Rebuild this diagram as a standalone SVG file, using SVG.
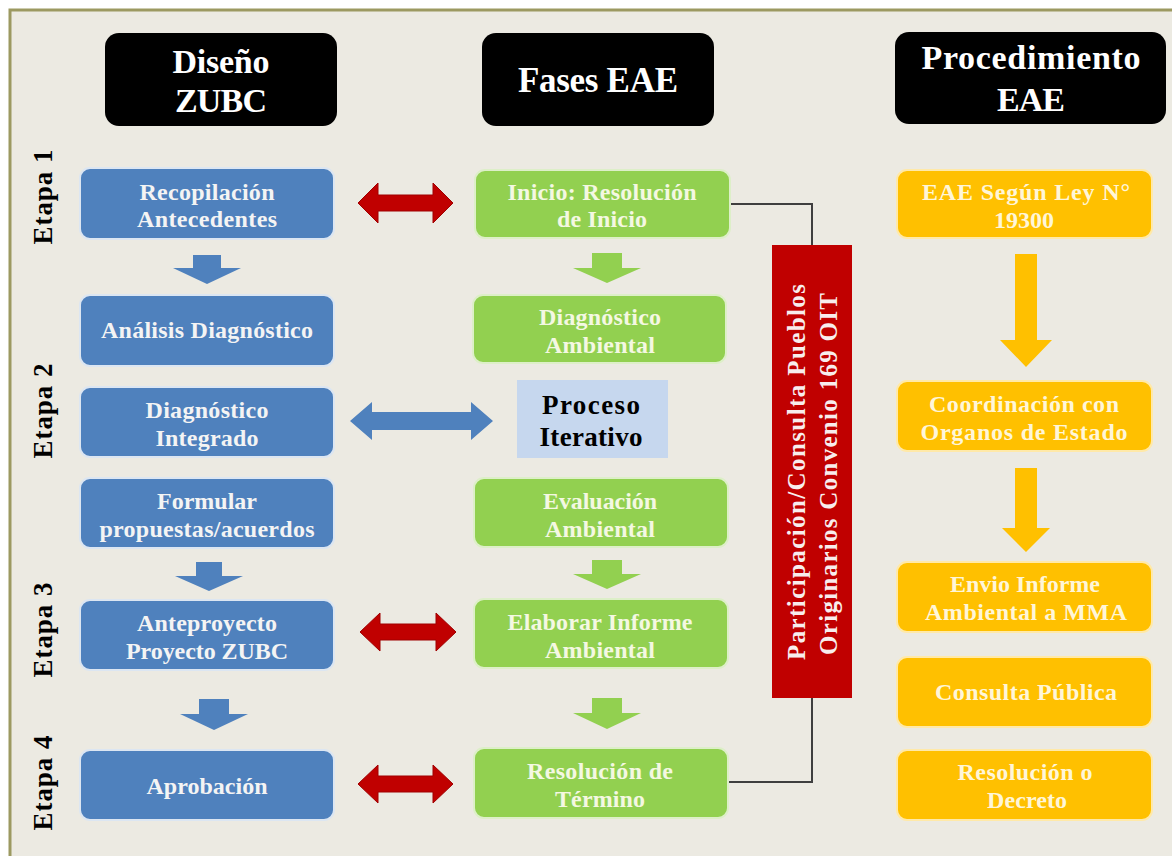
<svg xmlns="http://www.w3.org/2000/svg" width="1172" height="856" viewBox="0 0 1172 856">
<style>
text{font-family:"Liberation Serif","Times New Roman",serif;font-weight:bold;text-anchor:middle}
.hdr rect{fill:#000}
.hdr text{fill:#fff;font-size:34px}
.blue rect{fill:#4F81BD;stroke:#DCE6F2;stroke-width:2}
.blue text{fill:#F4F4F4;font-size:24px}
.green rect{fill:#92D050;stroke:#DDEFC8;stroke-width:2}
.green text{fill:#F4F8E2;font-size:24px}
.orange rect{fill:#FFC000;stroke:#FFE9A8;stroke-width:2}
.orange text{fill:#FFF6D8;font-size:24px}
.etapa{fill:#000;font-size:27px}
.line{fill:none;stroke:#3F3F3F;stroke-width:2}
.ra{fill:#C00000;stroke:#A00000;stroke-width:1}
.ba{fill:#4F81BD}
.ga{fill:#92D050}
.oa{fill:#FFC000}
</style>
<rect x="0" y="0" width="1172" height="856" fill="#fff"/>
<rect x="10" y="10" width="1175" height="860" fill="#ECEAE2" stroke="#9C9961" stroke-width="3"/>

<g id="etapas">
<text class="etapa" transform="translate(52,197) rotate(-90)" textLength="95">Etapa 1</text>
<text class="etapa" transform="translate(52,411) rotate(-90)" textLength="95">Etapa 2</text>
<text class="etapa" transform="translate(52,630) rotate(-90)" textLength="95">Etapa 3</text>
<text class="etapa" transform="translate(52,783) rotate(-90)" textLength="95">Etapa 4</text>
</g>

<g id="connectors">
<polyline class="line" points="730,204 812,204 812,246"/>
<polyline class="line" points="812,697 812,782 727,782"/>
<path class="ba" d="M193,255 H221 V268 H241 L207,284 L173,268 H193 Z"/>
<path class="ba" d="M196,562 H222 V576 H243 L209,591 L175,576 H196 Z"/>
<path class="ba" d="M199,699 H229 V714 H248 L214,730 L180,714 H199 Z"/>
<path class="ga" d="M592,253 H622 V268 H641 L607,283 L573,268 H592 Z"/>
<path class="ga" d="M592,560 H622 V574 H641 L607,589 L573,574 H592 Z"/>
<path class="ga" d="M592,698 H622 V713 H641 L607,729 L573,713 H592 Z"/>
<path class="oa" d="M1015,254 H1037 V340 H1052 L1026,367 L1000,340 H1015 Z"/>
<path class="oa" d="M1015,468 H1037 V528 H1050 L1026,552 L1002,528 H1015 Z"/>
<path class="ra" d="M358,203 L378,183 V195 H433 V183 L453,203 L433,223 V211 H378 V223 Z"/>
<path class="ra" d="M360,632 L380,613 V624 H436 V613 L456,632 L436,651 V640 H380 V651 Z"/>
<path class="ra" d="M358,784 L378,765 V776 H433 V765 L453,784 L433,803 V792 H378 V803 Z"/>
<path class="ba" d="M350,421 L372,402 V412 H471 V402 L493,421 L471,440 V430 H372 V440 Z"/>
</g>

<g id="hdr-diseno" class="hdr">
<rect x="105" y="33" width="232" height="93" rx="14"/>
<text x="221" y="73" textLength="97">Diseño</text>
<text x="221" y="112" textLength="92">ZUBC</text>
</g>
<g id="hdr-fases" class="hdr">
<rect x="482" y="33" width="232" height="93" rx="14"/>
<text x="598" y="92" textLength="160" style="font-size:35px">Fases EAE</text>
</g>
<g id="hdr-proc" class="hdr">
<rect x="895" y="32" width="271" height="92" rx="14"/>
<text x="1031" y="69" textLength="219">Procedimiento</text>
<text x="1031" y="111" textLength="68">EAE</text>
</g>

<g id="recopilacion" class="blue">
<rect x="80" y="168" width="254" height="71" rx="10"/>
<text x="207" y="200" textLength="135">Recopilación</text>
<text x="207" y="227" textLength="140">Antecedentes</text>
</g>
<g id="analisis" class="blue">
<rect x="80" y="295" width="254" height="71" rx="10"/>
<text x="207" y="338" textLength="212">Análisis Diagnóstico</text>
</g>
<g id="diag-integrado" class="blue">
<rect x="80" y="387" width="254" height="70" rx="10"/>
<text x="207" y="418" textLength="123">Diagnóstico</text>
<text x="207" y="446" textLength="103">Integrado</text>
</g>
<g id="formular" class="blue">
<rect x="80" y="478" width="254" height="70" rx="10"/>
<text x="207" y="509" textLength="100">Formular</text>
<text x="207" y="537" textLength="215">propuestas/acuerdos</text>
</g>
<g id="anteproyecto" class="blue">
<rect x="80" y="600" width="254" height="70" rx="10"/>
<text x="207" y="631" textLength="140">Anteproyecto</text>
<text x="207" y="659" textLength="162">Proyecto ZUBC</text>
</g>
<g id="aprobacion" class="blue">
<rect x="80" y="750" width="254" height="70" rx="10"/>
<text x="207" y="794" textLength="121">Aprobación</text>
</g>

<g id="inicio" class="green">
<rect x="475" y="170" width="255" height="68" rx="10"/>
<text x="602" y="200" textLength="189">Inicio: Resolución</text>
<text x="602" y="227" textLength="90">de Inicio</text>
</g>
<g id="diag-ambiental" class="green">
<rect x="473" y="295" width="253" height="68" rx="10"/>
<text x="600" y="325" textLength="122">Diagnóstico</text>
<text x="600" y="353" textLength="110">Ambiental</text>
</g>
<g id="proceso-iterativo">
<rect x="517" y="380" width="151" height="78" fill="#C6D7EE"/>
<text x="591" y="414" fill="#000" style="font-size:27px" textLength="98">Proceso</text>
<text x="591" y="446" fill="#000" style="font-size:27px" textLength="103">Iterativo</text>
</g>
<g id="evaluacion" class="green">
<rect x="474" y="478" width="254" height="69" rx="10"/>
<text x="600" y="509" textLength="114">Evaluación</text>
<text x="600" y="537" textLength="110">Ambiental</text>
</g>
<g id="elaborar" class="green">
<rect x="474" y="599" width="254" height="69" rx="10"/>
<text x="600" y="630" textLength="185">Elaborar Informe</text>
<text x="600" y="658" textLength="110">Ambiental</text>
</g>
<g id="resol-termino" class="green">
<rect x="474" y="748" width="254" height="70" rx="10"/>
<text x="600" y="779" textLength="146">Resolución de</text>
<text x="600" y="807" textLength="90">Término</text>
</g>

<g id="participacion">
<rect x="772" y="245" width="80" height="453" fill="#C00000"/>
<text transform="translate(805,472) rotate(-90)" fill="#F8EDED" style="font-size:25px" textLength="376">Participación/Consulta Pueblos</text>
<text transform="translate(837,474) rotate(-90)" fill="#F8EDED" style="font-size:25px" textLength="362">Originarios Convenio 169 OIT</text>
</g>

<g id="eae-ley" class="orange">
<rect x="897" y="170" width="255" height="68" rx="10"/>
<text x="1026" y="200" textLength="208">EAE Según Ley N°</text>
<text x="1024" y="228" textLength="60">19300</text>
</g>
<g id="coordinacion" class="orange">
<rect x="897" y="381" width="255" height="70" rx="10"/>
<text x="1024" y="412" textLength="190">Coordinación con</text>
<text x="1024" y="440" textLength="207">Organos de Estado</text>
</g>
<g id="envio" class="orange">
<rect x="897" y="562" width="255" height="70" rx="10"/>
<text x="1025" y="592" textLength="150">Envio Informe</text>
<text x="1026" y="620" textLength="202">Ambiental a MMA</text>
</g>
<g id="consulta" class="orange">
<rect x="897" y="657" width="255" height="70" rx="10"/>
<text x="1026" y="700" textLength="182">Consulta Pública</text>
</g>
<g id="resol-decreto" class="orange">
<rect x="897" y="750" width="255" height="70" rx="10"/>
<text x="1025" y="780" textLength="135">Resolución o</text>
<text x="1027" y="808" textLength="80">Decreto</text>
</g>
</svg>
